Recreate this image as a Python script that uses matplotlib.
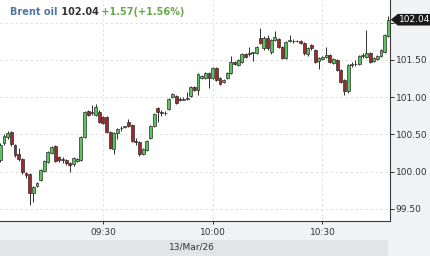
import matplotlib
matplotlib.use("Agg")
import matplotlib.pyplot as plt
import matplotlib.dates as mdates
from matplotlib.patches import Rectangle, Polygon
from matplotlib.transforms import blended_transform_factory
import pandas as pd
import numpy as np

# one-minute candles, 13 Mar 2026, 09:02 .. 10:48
times = pd.date_range("2026-03-13 09:02", "2026-03-13 10:48", freq="1min")

opens = [100.16, 100.38, 100.46, 100.53, 100.36, 100.24, 100.17, 99.98, 99.97, 99.71,
         99.81, 99.89, 100.01, 100.13, 100.25, 100.34, 100.20, 100.17, 100.16, 100.11,
         100.10, 100.14, 100.16, 100.46, 100.81, 100.79, 100.76, 100.80, 100.73, 100.73,
         100.53, 100.30, 100.52, 100.58, 100.60, 100.67, 100.62, 100.41, 100.40, 100.24,
         100.29, 100.45, 100.61, 100.85, 100.80, 100.79, 100.84, 101.00, 101.01, 100.97,
         100.96, 100.98, 101.01, 101.14, 101.09, 101.26, 101.26, 101.32, 101.26, 101.39,
         101.26, 101.20, 101.26, 101.32, 101.47, 101.43, 101.47, 101.58, 101.58, 101.59,
         101.59, 101.79, 101.66, 101.79, 101.61, 101.77, 101.78, 101.67, 101.53, 101.75,
         101.75, 101.75, 101.75, 101.73, 101.58, 101.70, 101.63, 101.49, 101.51, 101.54,
         101.57, 101.46, 101.50, 101.36, 101.23, 101.08, 101.43, 101.45, 101.45, 101.55,
         101.54, 101.59, 101.49, 101.51, 101.55, 101.61, 101.82]
highs = [100.38, 100.50, 100.54, 100.54, 100.37, 100.32, 100.18, 99.99, 99.98, 99.81,
         99.86, 100.03, 100.16, 100.28, 100.34, 100.36, 100.21, 100.20, 100.17, 100.13,
         100.20, 100.18, 100.48, 100.81, 100.83, 100.89, 100.91, 100.83, 100.75, 100.75,
         100.54, 100.53, 100.58, 100.61, 100.61, 100.71, 100.64, 100.45, 100.41, 100.32,
         100.42, 100.62, 100.79, 100.87, 100.83, 100.81, 100.99, 101.05, 101.03, 101.00,
         101.00, 101.07, 101.15, 101.15, 101.32, 101.30, 101.34, 101.34, 101.40, 101.40,
         101.27, 101.24, 101.34, 101.55, 101.49, 101.51, 101.59, 101.59, 101.67, 101.61,
         101.69, 101.93, 101.82, 101.83, 101.78, 101.89, 101.79, 101.69, 101.75, 101.83,
         101.78, 101.77, 101.77, 101.74, 101.67, 101.71, 101.65, 101.54, 101.55, 101.67,
         101.58, 101.53, 101.51, 101.38, 101.24, 101.45, 101.47, 101.50, 101.57, 101.59,
         101.90, 101.61, 101.54, 101.57, 101.65, 101.85, 102.09]
lows = [100.13, 100.36, 100.44, 100.34, 100.20, 100.14, 99.97, 99.91, 99.55, 99.59,
        99.79, 99.87, 99.99, 100.11, 100.24, 100.13, 100.13, 100.11, 100.09, 99.99,
        100.07, 100.13, 100.14, 100.45, 100.75, 100.76, 100.75, 100.65, 100.64, 100.52,
        100.30, 100.24, 100.44, 100.54, 100.58, 100.60, 100.40, 100.36, 100.21, 100.22,
        100.28, 100.44, 100.60, 100.67, 100.75, 100.76, 100.83, 100.99, 100.91, 100.95,
        100.96, 100.96, 101.00, 101.08, 101.03, 101.24, 101.24, 101.12, 101.24, 101.22,
        101.16, 101.19, 101.24, 101.31, 101.43, 101.42, 101.46, 101.53, 101.55, 101.49,
        101.58, 101.71, 101.63, 101.63, 101.58, 101.75, 101.66, 101.51, 101.51, 101.74,
        101.73, 101.74, 101.71, 101.57, 101.55, 101.63, 101.46, 101.38, 101.50, 101.53,
        101.46, 101.45, 101.35, 101.19, 101.03, 101.05, 101.40, 101.42, 101.43, 101.53,
        101.53, 101.46, 101.47, 101.50, 101.54, 101.59, 101.81]
closes = [100.36, 100.48, 100.52, 100.37, 100.22, 100.17, 99.99, 99.95, 99.71, 99.79,
          99.85, 100.02, 100.14, 100.26, 100.33, 100.14, 100.16, 100.16, 100.11, 100.09,
          100.18, 100.17, 100.46, 100.80, 100.76, 100.80, 100.87, 100.67, 100.65, 100.53,
          100.32, 100.52, 100.57, 100.59, 100.60, 100.61, 100.41, 100.40, 100.24, 100.30,
          100.41, 100.61, 100.77, 100.80, 100.79, 100.78, 100.97, 101.04, 100.92, 100.96,
          100.97, 100.99, 101.14, 101.09, 101.31, 101.28, 101.32, 101.26, 101.39, 101.23,
          101.18, 101.23, 101.32, 101.47, 101.45, 101.50, 101.58, 101.54, 101.59, 101.60,
          101.67, 101.73, 101.79, 101.66, 101.77, 101.81, 101.67, 101.53, 101.74, 101.77,
          101.76, 101.76, 101.73, 101.59, 101.66, 101.66, 101.47, 101.53, 101.54, 101.57,
          101.47, 101.51, 101.36, 101.20, 101.08, 101.43, 101.45, 101.44, 101.55, 101.57,
          101.59, 101.47, 101.53, 101.55, 101.63, 101.83, 102.04]

name = "Brent oil"
last_price = "102.04"
change = "+1.57(+1.56%)"
date_label = "13/Mar/26"
yticks = [99.50, 100.00, 100.50, 101.00, 101.50, 102.00]
xticks = ["2026-03-13 09:30", "2026-03-13 10:00", "2026-03-13 10:30"]

UP = "#5cc45c"
DOWN = "#9e2a2a"
EDGE = "#2e2e2e"
TXT = "#333333"
BG = "#f1f2f4"

fig = plt.figure(figsize=(4.3, 2.56), dpi=100, facecolor=BG)
ax = fig.add_axes([0, 35 / 256, 390 / 430, 221 / 256])
ax.set_facecolor("white")

x = mdates.date2num(times)
minute = 1 / 1440
o = np.array(opens)
h = np.array(highs)
l = np.array(lows)
c = np.array(closes)
up = c >= o

# wicks then bodies
ax.vlines(x, l, h, color=EDGE, lw=0.7, zorder=3)
bottoms = np.minimum(o, c)
heights = np.maximum(np.abs(c - o), 0.008)
ax.bar(x, heights, bottom=bottoms, width=0.8 * minute,
       color=np.where(up, UP, DOWN), edgecolor=EDGE, linewidth=0.5, zorder=4)

ax.set_xlim(x[0] - 0.1 * minute, x[-1] + 0.45 * minute)
ax.set_ylim(99.335, 102.305)

ax.set_xticks(mdates.date2num(pd.to_datetime(xticks)))
ax.xaxis.set_major_formatter(mdates.DateFormatter("%H:%M"))
ax.set_yticks(yticks)
# the top label sits under the last-price marker, so leave it blank
ax.set_yticklabels(["%.2f" % v for v in yticks[:-1]] + [""])
ax.yaxis.tick_right()
ax.tick_params(axis="y", direction="out", length=3, width=0.7, color=TXT,
               labelsize=6.5, labelcolor=TXT, pad=1)
ax.tick_params(axis="x", direction="out", length=2, width=0.7, color=TXT,
               labelsize=6.5, labelcolor=TXT, pad=3)
ax.grid(True, color="#dcdcdc", lw=0.6, ls=(0, (3, 3)))
ax.set_axisbelow(True)

for side in ["top", "left"]:
    ax.spines[side].set_visible(False)
for side in ["right", "bottom"]:
    ax.spines[side].set_color("#3a3a3a")
    ax.spines[side].set_linewidth(0.8)

# title inside the chart
t1 = ax.text(10 / 390, 1 - 12 / 221, name, transform=ax.transAxes, fontsize=7,
             fontweight="bold", color="#4f76a3", va="center", ha="left", zorder=6)
t2 = ax.annotate(" " + last_price, xy=(1, 0.5), xycoords=t1, va="center", ha="left",
                 fontsize=7, fontweight="bold", color="#333333", zorder=6)
ax.annotate(" " + change, xy=(1, 0.5), xycoords=t2, va="center", ha="left",
            fontsize=7, fontweight="bold", color="#6aa84f", zorder=6)

# last price marker on the right axis
tr = blended_transform_factory(ax.transAxes, ax.transData)
hh = 0.078
lp = closes[-1]
marker = Polygon([(1.002, lp), (1.02, lp + hh), (1.11, lp + hh), (1.11, lp - hh), (1.02, lp - hh)],
                 closed=True, transform=tr, facecolor="#1a1a1a", edgecolor="none",
                 clip_on=False, zorder=10)
ax.add_patch(marker)
ax.text(1.023, lp, last_price, transform=tr, color="white", fontsize=6.5,
        va="center", ha="left", clip_on=False, zorder=11)

# date band
fig.patches.append(Rectangle((0, 0), 388 / 430, 16 / 256, transform=fig.transFigure,
                             facecolor="#e3e4e6", edgecolor="none"))
fig.text(192 / 430, 8.5 / 256, date_label, ha="center", va="center", fontsize=6.5, color=TXT)

fig.savefig("out.png", dpi=100, facecolor=BG)
